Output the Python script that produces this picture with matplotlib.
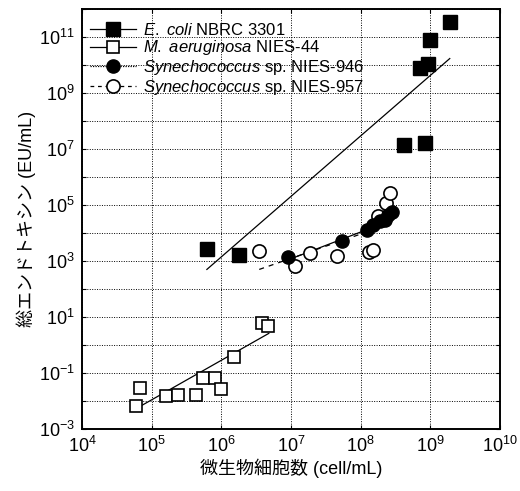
import math

import matplotlib
matplotlib.use("Agg")
import matplotlib.pyplot as plt
from matplotlib.ticker import FixedLocator, FuncFormatter, NullLocator

plt.rcParams["font.family"] = ["Liberation Sans", "Noto Sans CJK JP", "DejaVu Sans"]
plt.rcParams["mathtext.fontset"] = "custom"
plt.rcParams["mathtext.rm"] = "Liberation Sans"
plt.rcParams["mathtext.it"] = "Liberation Sans:italic"

# E. coli NBRC 3301 (filled squares)
ecoli_x = [6.2e5, 1.8e6, 4.2e8, 8.3e8, 7.1e8, 9.3e8, 1.0e9, 1.9e9]
ecoli_y = [2.7e3, 1.6e3, 1.4e7, 1.6e7, 7.6e9, 1.1e10, 7.8e10, 3.3e11]
ecoli_fit_x = [6.2e5, 1.9e9]
ecoli_fit_y = [5.0e2, 1.7e10]

# M. aeruginosa NIES-44 (open squares)
maer_x = [5.9e4, 6.7e4, 1.6e5, 2.4e5, 4.3e5, 5.5e5, 8.2e5, 1.0e6, 1.5e6, 3.8e6, 4.6e6]
maer_y = [6.6e-3, 2.8e-2, 1.5e-2, 1.7e-2, 1.6e-2, 6.8e-2, 6.8e-2, 2.6e-2, 3.6e-1, 6.3, 4.8]
maer_fit_x = [6.5e4, 4.8e6]
maer_fit_y = [6.0e-3, 2.6]

# Synechococcus sp. NIES-946 (filled circles)
s946_x = [9.1e6, 5.4e7, 1.25e8, 1.5e8, 1.9e8, 2.2e8, 2.5e8, 2.8e8]
s946_y = [1.4e3, 5.1e3, 1.3e4, 2.0e4, 2.6e4, 3.0e4, 4.5e4, 5.5e4]
s946_fit_x = [9.1e6, 2.8e8]
s946_fit_y = [1.1e3, 2.9e4]

# Synechococcus sp. NIES-957 (open circles)
s957_x = [3.5e6, 1.15e7, 1.9e7, 4.6e7, 1.3e8, 1.5e8, 1.8e8, 2.3e8, 2.6e8]
s957_y = [2.3e3, 6.6e2, 1.9e3, 1.5e3, 2.1e3, 2.5e3, 4.2e4, 1.2e5, 2.6e5]
s957_fit_x = [3.5e6, 2.6e8]
s957_fit_y = [5.0e2, 2.1e4]

fig = plt.figure(figsize=(5.2, 4.91), dpi=100)
ax = fig.add_axes([82 / 520, 62 / 491, 418 / 520, 420 / 491])
ax.set_xscale("log")
ax.set_yscale("log")
ax.set_xlim(1e4, 1e10)
ax.set_ylim(1e-3, 1e12)

lw = 0.9
ax.plot(ecoli_fit_x, ecoli_fit_y, color="black", lw=lw, zorder=2)
ax.plot(maer_fit_x, maer_fit_y, color="black", lw=lw, zorder=2)
ax.plot(s946_fit_x, s946_fit_y, color="black", lw=lw, zorder=2)
ax.plot(s957_fit_x, s957_fit_y, color="black", lw=lw, ls=(0, (4, 4)), zorder=2)

ms = 9.5
ax.plot(ecoli_x, ecoli_y, ls="none", marker="s", ms=ms, mfc="black", mec="black", zorder=3)
ax.plot(maer_x, maer_y, ls="none", marker="s", ms=ms - 0.5, mfc="white", mec="black", mew=1.2, zorder=3)
ax.plot(s957_x, s957_y, ls="none", marker="o", ms=ms, mfc="white", mec="black", mew=1.2, zorder=3)
ax.plot(s946_x, s946_y, ls="none", marker="o", ms=ms, mfc="black", mec="black", zorder=4)

# legend handles
h1, = ax.plot([], [], color="black", lw=lw, marker="s", ms=ms, mfc="black", mec="black")
h2, = ax.plot([], [], color="black", lw=lw, marker="s", ms=ms - 0.5, mfc="white", mec="black", mew=1.2)
h3, = ax.plot([], [], color="black", lw=lw, ls=(0, (1, 1)), marker="o", ms=ms, mfc="black", mec="black")
h4, = ax.plot([], [], color="black", lw=lw, ls=(0, (3, 3)), marker="o", ms=ms, mfc="white", mec="black", mew=1.2)
labels = [
    r"$\it{E.}$ $\it{coli}$ NBRC 3301",
    r"$\it{M.}$ $\it{aeruginosa}$ NIES-44",
    r"$\it{Synechococcus}$ sp. NIES-946",
    r"$\it{Synechococcus}$ sp. NIES-957",
]
ax.legend([h1, h2, h3, h4], labels, loc="upper left", bbox_to_anchor=(0.0, 0.988),
          frameon=False, fontsize=12, handlelength=2.8, handletextpad=0.4,
          labelspacing=0.05, borderaxespad=0.25, borderpad=0.2)

xt = [1e4, 1e5, 1e6, 1e7, 1e8, 1e9, 1e10]
yt = [10.0 ** e for e in range(-3, 13)]
ax.xaxis.set_major_locator(FixedLocator(xt))
ax.yaxis.set_major_locator(FixedLocator(yt))
ax.xaxis.set_minor_locator(NullLocator())
ax.yaxis.set_minor_locator(NullLocator())


def xfmt(v, pos):
    return r"$10^{%d}$" % round(math.log10(v))


def yfmt(v, pos):
    e = round(math.log10(v))
    if e % 2 == 0:
        return ""
    return r"$10^{%d}$" % e


ax.xaxis.set_major_formatter(FuncFormatter(xfmt))
ax.yaxis.set_major_formatter(FuncFormatter(yfmt))
ax.tick_params(direction="in", length=3, width=0.8, labelsize=13, top=True, right=True, pad=5)

ax.grid(True, which="major", color="black", ls=(0, (1, 1.5)), lw=0.7)
for s in ax.spines.values():
    s.set_linewidth(1.4)

ax.set_xlabel("微生物細胞数 (cell/mL)", fontsize=13, labelpad=2)
ax.set_ylabel("総エンドトキシン (EU/mL)", fontsize=13, labelpad=2)

fig.savefig("out.png", dpi=100)
